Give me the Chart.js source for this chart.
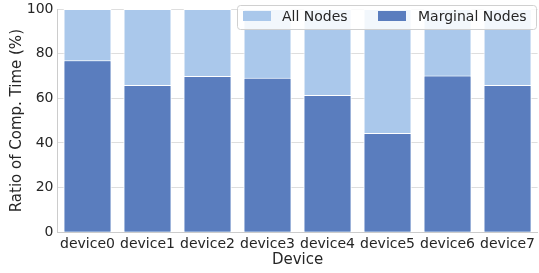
<!DOCTYPE html>
<html>
<head>
<meta charset="utf-8">
<script src="https://cdn.jsdelivr.net/npm/chart.js@4"></script>
<style>
  html, body { margin: 0; padding: 0; background: #fff; }
  #wrap { width: 539px; height: 273px; }
</style>
</head>
<body>
<div id="wrap"><canvas id="ratioChart"></canvas></div>
<script>
const devices = ["device0", "device1", "device2", "device3", "device4", "device5", "device6", "device7"];
const allNodes = [100, 100, 100, 100, 100, 100, 100, 100];
const marginalNodes = [77, 66, 70, 69.2, 61.5, 44.5, 70.2, 66];
const seriesNames = ["All Nodes", "Marginal Nodes"];

const lightBlue = "#aac8eb";
const darkBlue = "#5a7dbe";
const textColor = "#262626";
const fontFamily = "'DejaVu Sans', sans-serif";

const ctx = document.getElementById("ratioChart");

// legend box sits in the top right corner, drawn by hand
const legendBox = {
  id: "legendBox",
  afterDraw(chart) {
    const c = chart.ctx;
    const x = 237, y = 5, w = 299, h = 24, r = 3;
    c.save();
    c.fillStyle = "rgba(255,255,255,0.85)";
    c.strokeStyle = "#d0d0d0";
    c.lineWidth = 1;
    c.beginPath();
    c.roundRect(x + 0.5, y + 0.5, w, h, r);
    c.fill();
    c.stroke();

    const items = [
      { label: seriesNames[0], color: lightBlue, sx: 243, tx: 282 },
      { label: seriesNames[1], color: darkBlue, sx: 378, tx: 418 },
    ];
    c.font = "14px " + fontFamily;
    c.textBaseline = "middle";
    items.forEach((it) => {
      c.fillStyle = it.color;
      c.fillRect(it.sx, 11, 28, 10);
      c.fillStyle = textColor;
      c.fillText(it.label, it.tx, 17);
    });
    c.restore();
  },
};

const config = {
  type: "bar",
  data: {
    labels: devices,
    datasets: [
      {
        label: seriesNames[1],
        data: marginalNodes,
        backgroundColor: darkBlue,
        borderColor: "#ffffff",
        borderWidth: 1,
        grouped: false,
        barPercentage: 0.8,
        categoryPercentage: 1.0,
      },
      {
        label: seriesNames[0],
        data: allNodes,
        backgroundColor: lightBlue,
        borderColor: "#ffffff",
        borderWidth: 1,
        grouped: false,
        barPercentage: 0.8,
        categoryPercentage: 1.0,
      },
    ],
  },
  options: {
    responsive: true,
    maintainAspectRatio: false,
    animation: false,
    layout: {
      padding: { left: 8, right: 0, top: 0, bottom: 0 },
    },
    plugins: {
      legend: { display: false },
      tooltip: { enabled: false },
    },
    scales: {
      x: {
        afterFit: (scale) => {
          scale.height = 40.7;
        },
        grid: { display: false, drawTicks: false },
        border: { display: true, color: "#cccccc", width: 1 },
        ticks: {
          color: textColor,
          font: { family: fontFamily, size: 14 },
          padding: 4,
          maxRotation: 0,
          autoSkip: false,
        },
        title: {
          display: true,
          text: "Device",
          color: textColor,
          font: { family: fontFamily, size: 15 },
          padding: { top: 0, bottom: 4 },
        },
      },
      y: {
        min: 0,
        max: 100,
        afterFit: (scale) => {
          scale.width = 49.5;
          scale.paddingTop = 9;
        },
        grid: { color: "#dedede", lineWidth: 1, drawTicks: false },
        border: { display: true, color: "#cccccc", width: 1 },
        ticks: {
          stepSize: 20,
          color: textColor,
          font: { family: fontFamily, size: 14 },
          padding: 4,
        },
        title: {
          display: true,
          text: "Ratio of Comp. Time (%)",
          color: textColor,
          font: { family: fontFamily, size: 15 },
          padding: { top: 0, bottom: 0 },
        },
      },
    },
  },
  plugins: [legendBox],
};

new Chart(ctx, config);
</script>
</body>
</html>
